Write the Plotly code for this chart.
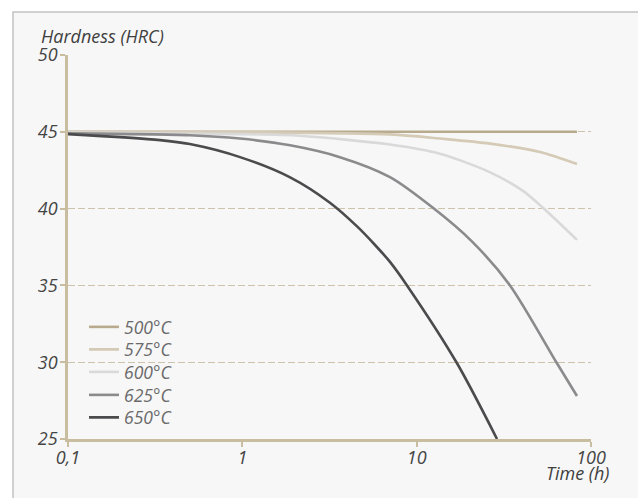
import plotly.graph_objects as go

# ---- data ----
temps = ["500°C", "575°C", "600°C", "625°C", "650°C"]
colors = ["#b8ab8d", "#d4cab6", "#d9d9d9", "#8b8b8d", "#4b4b4d"]

t_500 = [0.1, 1, 10, 83.1]
h_500 = [45.0, 45.0, 45.0, 45.0]

t_575 = [0.1, 1, 7.03, 13.6, 26.4, 51.0, 83.1]
h_575 = [45.0, 44.97, 44.83, 44.56, 44.23, 43.68, 42.9]

t_600 = [0.1, 1, 2.14, 7.03, 13.6, 26.4, 40.7, 53.0, 83.1]
h_600 = [44.95, 44.85, 44.74, 44.17, 43.57, 42.36, 41.15, 40.05, 37.96]

t_625 = [0.1, 0.5, 0.97, 1.88, 3.63, 7.03, 12.4, 20.8, 34.3, 63.8, 83.1]
h_625 = [44.9, 44.78, 44.56, 44.12, 43.35, 42.05, 40.05, 37.85, 35.0, 29.93, 27.8]

t_650 = [0.1, 0.337, 0.5, 0.97, 1.88, 3.18, 4.55, 5.77, 7.03, 8.8, 17.04, 28.9]
h_650 = [44.85, 44.46, 44.2, 43.35, 42.03, 40.38, 38.84, 37.63, 36.53, 35.0, 29.93, 25.0]

x_tickvals = [0.1, 1, 10, 100]
x_ticktext = ["0,1", "1", "10", "100"]
y_tickvals = [25, 30, 35, 40, 45, 50]

series_t = [t_500, t_575, t_600, t_625, t_650]
series_h = [h_500, h_575, h_600, h_625, h_650]

FONT = "Open Sans"
TAN = "#c9bd9f"
GRID = "#cdc3aa"

W, H = 638, 498
L, R, T, B = 68, 47, 55, 59
pw, ph = W - L - R, H - T - B


def px_x(p):
    return (p - L) / pw


def px_y(p):
    return (H - B - p) / ph


legend_centers = [327, 349.5, 372, 395, 417.5]
legend_font = dict(family=FONT, size=17.5, color="#6a6a6a", style="italic")

fig = go.Figure()
layout_legends = {}
for i, (name, col, tt, hh) in enumerate(zip(temps, colors, series_t, series_h)):
    key = "legend" if i == 0 else f"legend{i + 1}"
    fig.add_trace(go.Scatter(
        x=tt, y=hh, name=name, mode="lines", legend=key,
        line=dict(color=col, width=2.6, shape="spline", smoothing=0.8),
        hoverinfo="skip",
    ))
    layout_legends[key] = dict(
        x=px_x(84), y=px_y(legend_centers[i]), xanchor="left", yanchor="middle",
        bgcolor="rgba(0,0,0,0)", borderwidth=0, font=legend_font,
    )

fig.update_layout(
    width=W, height=H, autosize=False,
    margin=dict(l=L, r=R, t=T, b=B, pad=0),
    paper_bgcolor="#ffffff",
    plot_bgcolor="rgba(0,0,0,0)",
    showlegend=True,
    **layout_legends,
    xaxis=dict(
        type="log", range=[-1, 2],
        tickvals=x_tickvals, ticktext=x_ticktext,
        ticks="outside", ticklen=5, tickwidth=1.5, tickcolor=TAN,
        ticklabelstandoff=-4,
        showline=True, linecolor=TAN, linewidth=2.5,
        showgrid=False, zeroline=False,
        tickfont=dict(family=FONT, size=18, color="#444444", style="italic"),
    ),
    xaxis2=dict(
        type="log", range=[-1, 2], overlaying="x", anchor="y",
        tickvals=[1, 10], ticks="inside", ticklen=5, tickwidth=1.5,
        tickcolor=TAN, showticklabels=False, showline=False,
        showgrid=False, zeroline=False,
    ),
    yaxis=dict(
        range=[25, 50], tickvals=y_tickvals,
        ticks="outside", ticklen=5, tickwidth=1.5, tickcolor=TAN,
        ticklabelstandoff=-1,
        showline=True, linecolor=TAN, linewidth=2.5,
        showgrid=True, gridcolor=GRID, gridwidth=1.2, griddash="7px,3px",
        zeroline=False,
        tickfont=dict(family=FONT, size=18, color="#444444", style="italic"),
    ),
    yaxis2=dict(
        range=[25, 50], overlaying="y", anchor="x", side="right",
        showline=True, linecolor="#d2cbbb", linewidth=1.2,
        showticklabels=False, ticks="", showgrid=False, zeroline=False,
    ),
    shapes=[dict(
        type="rect", xref="paper", yref="paper", layer="below",
        x0=px_x(13), x1=px_x(700), y0=px_y(560), y1=px_y(12),
        fillcolor="#f7f7f7", line=dict(color="#c2c2c2", width=1.5),
    )],
    annotations=[
        dict(text="Hardness (HRC)", xref="paper", yref="paper",
             x=px_x(39), y=px_y(36), xanchor="left", yanchor="middle",
             showarrow=False,
             font=dict(family=FONT, size=18, color="#3f3f3f", style="italic")),
        dict(text="Time (h)", xref="paper", yref="paper",
             x=px_x(611), y=px_y(473), xanchor="right", yanchor="middle",
             showarrow=False,
             font=dict(family=FONT, size=18, color="#3f3f3f", style="italic")),
    ],
)

fig.write_html("out.html",
               config={"displayModeBar": False},
               post_script="document.body.style.margin='0';document.body.style.overflow='hidden';")
